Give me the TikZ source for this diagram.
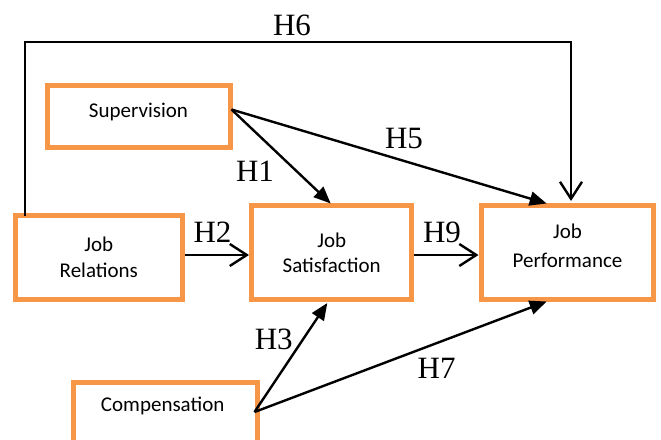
\documentclass[tikz,border=0pt]{standalone}
\usepackage{fontspec}
\setmainfont{Liberation Serif}
\newfontfamily\boxfont{Carlito}
\usetikzlibrary{arrows.meta}
\definecolor{boxorange}{RGB}{247,150,70}
\tikzset{
  varbox/.style={draw=boxorange, line width=5pt, fill=white, inner sep=0pt,
    align=center, font=\boxfont\fontsize{21}{25.5}\selectfont},
  boxtext/.style={align=center, inner sep=0pt, font=\boxfont\fontsize{21}{25.5}\selectfont},
  conn/.style={line width=2.4pt, black},
  solidtip/.style={conn, -{Triangle[length=17pt,width=14pt]}},
  opentip/.style={conn, -{Straight Barb[length=17pt,width=22pt,line width=2.4pt]}},
  hlabel/.style={font=\fontsize{31}{31}\selectfont, inner sep=0pt}
}
\begin{document}
\begin{tikzpicture}[x=1pt,y=-1pt]
\useasboundingbox (0,0) rectangle (661,439);
\begin{scope}
\clip (0,0) rectangle (661,439);
\node[varbox, minimum width=183pt, minimum height=62pt] (sup) at (139,116.5) {};
\node[boxtext] (suptext) at (138.5,112) {Supervision};
\node[varbox, minimum width=167pt, minimum height=83.5pt] (rel) at (98.8,257.5) {Job\\Relations};
\node[varbox, minimum width=160pt, minimum height=94pt] (sat) at (331.7,252.8) {Job\\Satisfaction};
\node[varbox, minimum width=171.5pt, minimum height=94pt] (perf) at (567.5,252.8) {};
\node[boxtext, font=\boxfont\fontsize{21}{29}\selectfont] (perftext) at (567.5,245.5) {Job\\Performance};
\node[varbox, minimum width=184pt, minimum height=80pt, anchor=north west] (comp) at (70.8,379.8) {};
\node[boxtext] (comptext) at (162.7,405.7) {Compensation};
\end{scope}
\coordinate (sOut) at (231.5,109.5);
\coordinate (cOut) at (254.5,412);
\coordinate (rTop) at (25,216);
\coordinate (c1) at (25,42);
\coordinate (c2) at (571,42);
\coordinate (pTop) at (571,201);
\coordinate (satTop) at (330.7,203.5);
\coordinate (perfTopL) at (546.7,203.5);
\coordinate (satBot) at (327.3,303);
\coordinate (perfBot) at (546.7,301.5);
\draw[opentip] (rTop) -- (c1) -- (c2) -- (pTop);
\draw[solidtip] (sOut) -- (satTop);
\draw[solidtip] (sOut) -- (perfTopL);
\draw[opentip] (rel.east |- 0,255) -- (249,255);
\draw[opentip] (sat.east |- 0,255) -- (478.5,255);
\draw[solidtip] (cOut) -- (satBot);
\draw[solidtip] (cOut) -- (perfBot);
\node[hlabel] (h6) at (292,25.5) {H6};
\node[hlabel] (h1) at (255,170.8) {H1};
\node[hlabel] (h5) at (404,138) {H5};
\node[hlabel] (h2) at (212.5,232.5) {H2};
\node[hlabel] (h9) at (442,232.5) {H9};
\node[hlabel] (h3) at (273.8,339) {H3};
\node[hlabel] (h7) at (436.6,368) {H7};
\end{tikzpicture}
\end{document}
